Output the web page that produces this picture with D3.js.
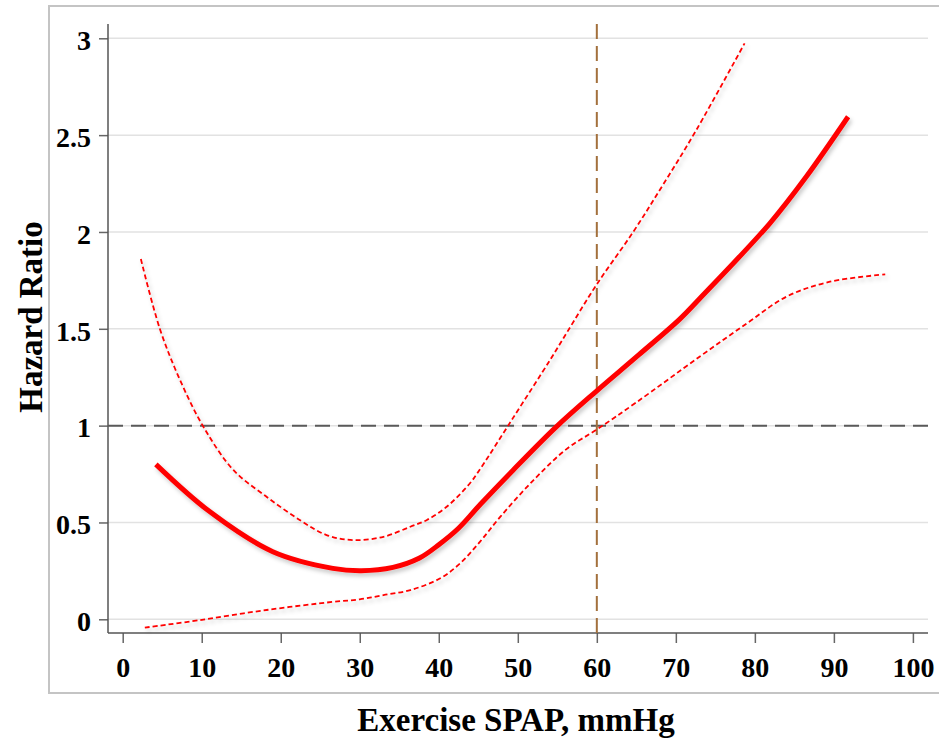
<!DOCTYPE html>
<html>
<head>
<meta charset="utf-8">
<script src="https://cdn.jsdelivr.net/npm/d3@7"></script>
<style>
  html, body { margin: 0; padding: 0; background: #fff; }
  svg { display: block; }
  text { font-family: "Liberation Serif", "Times New Roman", serif; font-weight: bold; fill: #000; }
</style>
</head>
<body>
<svg id="chart" width="939" height="741"></svg>
<script>
// ---- data ----
const xTicks = [0, 10, 20, 30, 40, 50, 60, 70, 80, 90, 100];
const yTicks = [0, 0.5, 1, 1.5, 2, 2.5, 3];
const yTickLabels = ["0", "0.5", "1", "1.5", "2", "2.5", "3"];

const hrX = [4.2, 11.0, 19.0, 26.6, 30.2, 34.2, 37.5, 40.0, 42.5, 45.3, 49.4, 54.9, 60.0, 65.3, 70.5, 73.0, 81.9, 86.5, 91.8];
const hrY = [0.80, 0.556, 0.349, 0.263, 0.251, 0.268, 0.315, 0.385, 0.47, 0.595, 0.77, 0.995, 1.18, 1.365, 1.55, 1.655, 2.045, 2.285, 2.595];

const upperX = [2.3, 4.7, 7.25, 10.2, 14.0, 18.2, 22.4, 25.8, 29.2, 33.0, 36.4, 38.5, 41.0, 43.9, 45.3, 49.4, 54.1, 56.2, 60.0, 64.6, 68.4, 72.6, 78.7];
const upperY = [1.86, 1.50, 1.236, 0.995, 0.771, 0.633, 0.513, 0.435, 0.409, 0.426, 0.478, 0.513, 0.581, 0.70, 0.78, 1.04, 1.34, 1.48, 1.73, 2.0, 2.245, 2.527, 2.974];

const lowerX = [2.8, 9.8, 18.2, 26.6, 30.0, 33.0, 36.4, 40.2, 42.7, 45.2, 47.8, 52.0, 56.2, 60.0, 65.0, 73.0, 79.0, 84.0, 89.5, 96.5];
const lowerY = [-0.043, -0.004, 0.048, 0.09, 0.103, 0.125, 0.151, 0.212, 0.289, 0.40, 0.53, 0.719, 0.88, 0.98, 1.12, 1.356, 1.528, 1.666, 1.743, 1.781];

const refHR = 1;
const refSPAP = 60;
const xTitle = "Exercise SPAP, mmHg";
const yTitle = "Hazard Ratio";

// ---- layout ----
const svg = d3.select("#chart");
const x = d3.scaleLinear().domain([0, 100]).range([122.7, 912.9]);
const y = d3.scaleLinear().domain([0, 3]).range([619.3, 38.3]);
const axisLeftX = 108, axisBottomY = 633, plotRight = 928, plotTop = 24;

const defs = svg.append("defs");
const f = defs.append("filter").attr("id", "shadow").attr("x", "-10%").attr("y", "-10%").attr("width", "130%").attr("height", "130%");
f.append("feDropShadow").attr("dx", 2).attr("dy", 3).attr("stdDeviation", 2)
  .attr("flood-color", "#000").attr("flood-opacity", 0.22);

// outer frame
svg.append("rect").attr("x", 49).attr("y", 6).attr("width", 1000).attr("height", 687)
  .attr("fill", "none").attr("stroke", "#c4c4c4").attr("stroke-width", 2);

// gridlines
svg.append("g").selectAll("line").data(yTicks).join("line")
  .attr("x1", axisLeftX).attr("x2", plotRight)
  .attr("y1", d => y(d)).attr("y2", d => y(d))
  .attr("stroke", "#e2e2e2").attr("stroke-width", 1.5);

// y axis
const yAxis = d3.axisLeft(y).tickValues(yTicks).tickFormat((d, i) => yTickLabels[i]).tickSize(9).tickPadding(8);
const gy = svg.append("g").attr("transform", `translate(${axisLeftX},0)`).call(yAxis);
gy.select(".domain").remove();
gy.selectAll(".tick line").attr("stroke", "#666").attr("stroke-width", 1.5);
gy.selectAll(".tick text").attr("font-size", 28).attr("font-family", "Liberation Serif").attr("font-weight", "bold").attr("dy", "0.4em").attr("fill", "#000");
svg.append("line").attr("x1", axisLeftX).attr("x2", axisLeftX).attr("y1", plotTop).attr("y2", axisBottomY)
  .attr("stroke", "#555").attr("stroke-width", 1.5);

// x axis
const xAxis = d3.axisBottom(x).tickValues(xTicks).tickFormat(d3.format("d")).tickSize(10).tickPadding(14);
const gx = svg.append("g").attr("transform", `translate(0,${axisBottomY})`).call(xAxis);
gx.select(".domain").remove();
gx.selectAll(".tick line").attr("stroke", "#666").attr("stroke-width", 1.5);
gx.selectAll(".tick text").attr("font-size", 28).attr("font-family", "Liberation Serif").attr("font-weight", "bold").attr("fill", "#000").attr("dy", "0.71em");
svg.append("line").attr("x1", axisLeftX).attr("x2", plotRight).attr("y1", axisBottomY).attr("y2", axisBottomY)
  .attr("stroke", "#555").attr("stroke-width", 1.5);

// reference lines
svg.append("line").attr("x1", axisLeftX).attr("x2", plotRight).attr("y1", y(refHR)).attr("y2", y(refHR))
  .attr("stroke", "#5a5a5a").attr("stroke-width", 2).attr("stroke-dasharray", "15,8");
svg.append("line").attr("x1", x(refSPAP)).attr("x2", x(refSPAP)).attr("y1", plotTop).attr("y2", axisBottomY)
  .attr("stroke", "#a3703c").attr("stroke-width", 2).attr("stroke-dasharray", "15,7");

// curves
const line = d3.line().x(d => x(d[0])).y(d => y(d[1])).curve(d3.curveCatmullRom.alpha(0.5));
const zip = (a, b) => a.map((v, i) => [v, b[i]]);
const curves = svg.append("g").attr("filter", "url(#shadow)");
curves.append("path").attr("d", line(zip(upperX, upperY))).attr("fill", "none")
  .attr("stroke", "#ff0000").attr("stroke-width", 1.8).attr("stroke-dasharray", "5,3");
curves.append("path").attr("d", line(zip(lowerX, lowerY))).attr("fill", "none")
  .attr("stroke", "#ff0000").attr("stroke-width", 1.8).attr("stroke-dasharray", "5,3");
curves.append("path").attr("d", line(zip(hrX, hrY))).attr("fill", "none")
  .attr("stroke", "#ff0000").attr("stroke-width", 5);

// titles
svg.append("text").attr("x", 516).attr("y", 731).attr("text-anchor", "middle")
  .attr("font-size", 33).text(xTitle);
svg.append("text").attr("transform", "translate(42,317) rotate(-90)").attr("text-anchor", "middle")
  .attr("font-size", 33).text(yTitle);
</script>
</body>
</html>
